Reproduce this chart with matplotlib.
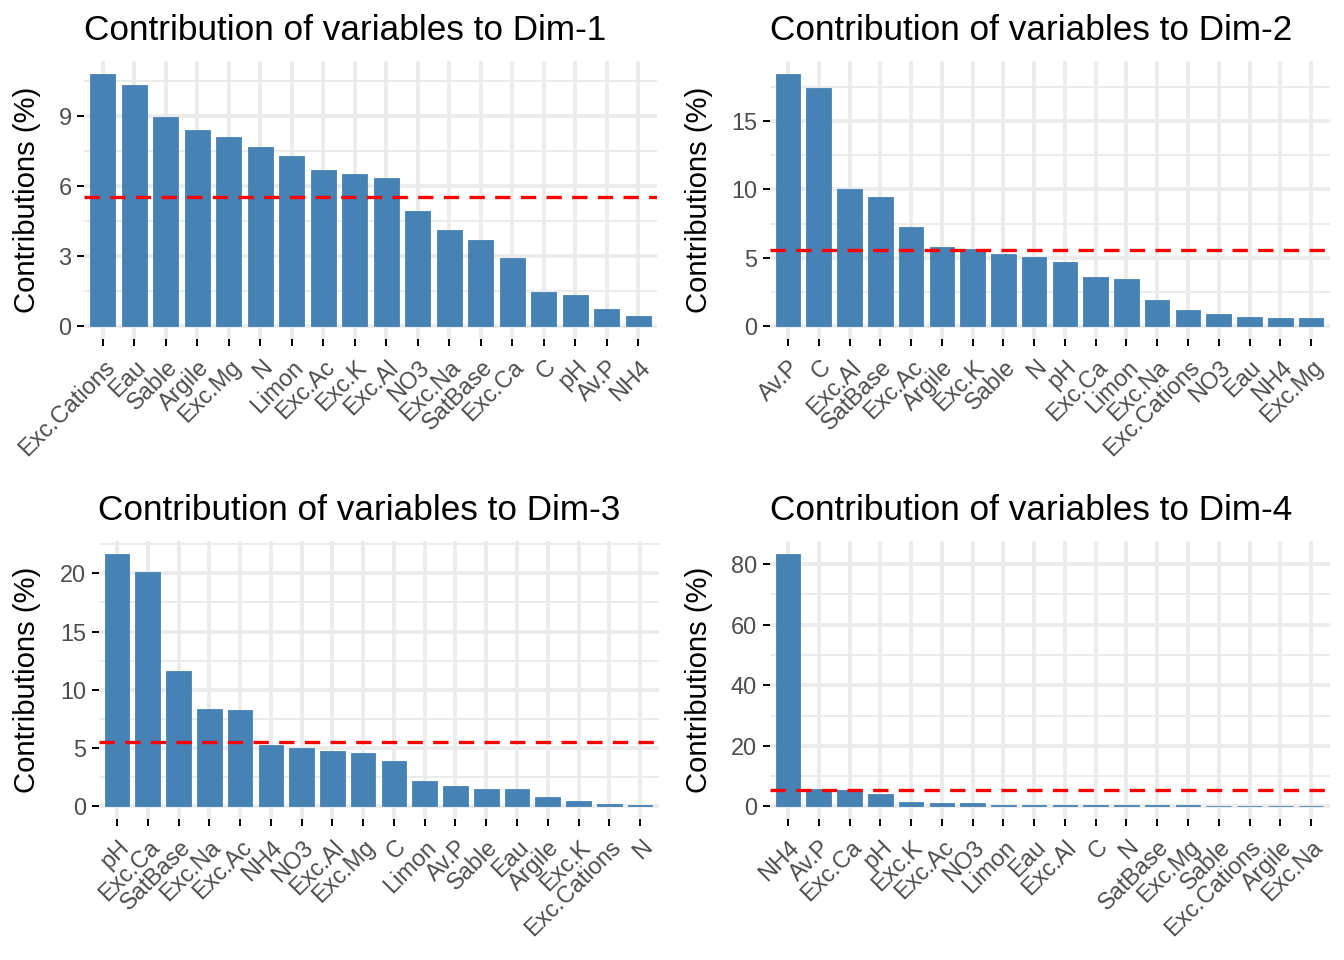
import matplotlib
matplotlib.use("Agg")
import matplotlib.pyplot as plt
import numpy as np

plt.rcParams['font.family'] = ['Liberation Sans', 'DejaVu Sans']

# ---- data ----
dim1_labels = ["Exc.Cations", "Eau", "Sable", "Argile", "Exc.Mg", "N", "Limon", "Exc.Ac", "Exc.K",
               "Exc.Al", "NO3", "Exc.Na", "SatBase", "Exc.Ca", "C", "pH", "Av.P", "NH4"]
dim1_values = [10.83, 10.35, 8.97, 8.41, 8.11, 7.68, 7.29, 6.69, 6.55,
               6.36, 4.94, 4.14, 3.68, 2.91, 1.46, 1.33, 0.76, 0.44]

dim2_labels = ["Av.P", "C", "Exc.Al", "SatBase", "Exc.Ac", "Argile", "Exc.K", "Sable", "N",
               "pH", "Exc.Ca", "Limon", "Exc.Na", "Exc.Cations", "NO3", "Eau", "NH4", "Exc.Mg"]
dim2_values = [18.44, 17.36, 10.00, 9.44, 7.24, 5.76, 5.61, 5.27, 5.07,
               4.66, 3.58, 3.44, 1.95, 1.22, 0.90, 0.66, 0.64, 0.61]

dim3_labels = ["pH", "Exc.Ca", "SatBase", "Exc.Na", "Exc.Ac", "NH4", "NO3", "Exc.Al", "Exc.Mg",
               "C", "Limon", "Av.P", "Sable", "Eau", "Argile", "Exc.K", "Exc.Cations", "N"]
dim3_values = [21.69, 20.14, 11.65, 8.35, 8.26, 5.28, 5.02, 4.79, 4.59,
               3.87, 2.21, 1.78, 1.49, 1.46, 0.80, 0.49, 0.17, 0.15]

dim4_labels = ["NH4", "Av.P", "Exc.Ca", "pH", "Exc.K", "Exc.Ac", "NO3", "Limon", "Eau",
               "Exc.Al", "C", "N", "SatBase", "Exc.Mg", "Sable", "Exc.Cations", "Argile", "Exc.Na"]
dim4_values = [83.5, 5.6, 5.3, 4.0, 1.55, 1.0, 0.95, 0.6, 0.55,
               0.5, 0.45, 0.4, 0.35, 0.3, 0.25, 0.2, 0.15, 0.1]

titles = ["Contribution of variables to Dim-1", "Contribution of variables to Dim-2",
          "Contribution of variables to Dim-3", "Contribution of variables to Dim-4"]
y_major = [[0, 3, 6, 9], [0, 5, 10, 15], [0, 5, 10, 15, 20], [0, 20, 40, 60, 80]]
reference_line = 100 / 18

W, H = 1344, 960
fig = plt.figure(figsize=(W / 100, H / 100), dpi=100)

# panel rectangles in pixels: left, right, top, bottom
rects = [(84, 657, 61, 339), (769.5, 1329.5, 61, 339),
         (98.5, 658.5, 541, 819), (769.5, 1329.5, 541, 819)]
ylabel_x = [27, 699, 27, 699]
panels = [(dim1_labels, dim1_values), (dim2_labels, dim2_values),
          (dim3_labels, dim3_values), (dim4_labels, dim4_values)]

bar_color = "#4682B4"
grid_col = "#EBEBEB"
text_col = "#4D4D4D"

for i, ((labels, values), (l, r, t, b)) in enumerate(zip(panels, rects)):
    ax = fig.add_axes([l / W, 1 - b / H, (r - l) / W, (b - t) / H])
    x = np.arange(len(labels))
    ax.bar(x, values, width=0.8, color=bar_color, edgecolor=bar_color, linewidth=0.6, zorder=3)
    ax.axhline(reference_line, color="red", linestyle=(0, (4.6, 3.1)), linewidth=2.4, zorder=4)
    vmax = max(values)
    ax.set_ylim(-0.05 * vmax, 1.05 * vmax)
    ax.set_xlim(-0.6, len(labels) - 1 + 0.6)
    ax.set_xticks(x)
    ax.set_xticklabels(labels, rotation=45, ha="right", va="top", rotation_mode="anchor",
                       fontsize=16.9, color=text_col)
    maj = y_major[i]
    ax.set_yticks(maj)
    ax.set_yticklabels([str(v) for v in maj], fontsize=16.9, color=text_col)
    step = maj[1] - maj[0]
    minors = [m + step / 2 for m in maj + [maj[-1] + step]]
    minors = [m for m in minors if m < 1.05 * vmax]
    ax.set_yticks(minors, minor=True)
    ax.tick_params(axis="y", which="minor", length=0)
    ax.tick_params(axis="both", which="major", length=5, width=1.4, color="black", pad=4)
    ax.tick_params(axis="x", which="major", pad=7)
    ax.grid(True, which="major", color=grid_col, linewidth=2.7, zorder=0)
    ax.grid(True, which="minor", axis="y", color=grid_col, linewidth=1.4, zorder=0)
    ax.set_axisbelow(True)
    for s in ax.spines.values():
        s.set_visible(False)
    # title left-aligned to panel
    fig.text(l / W, 1 - (t - 21) / H, titles[i], fontsize=25.3, color="black",
             ha="left", va="baseline")
    fig.text(ylabel_x[i] / W, 1 - ((t + b) / 2) / H,
             "Contributions (%)", rotation=90, fontsize=21.1, ha="center", va="center")

fig.savefig("out.png", dpi=100, facecolor="white")
